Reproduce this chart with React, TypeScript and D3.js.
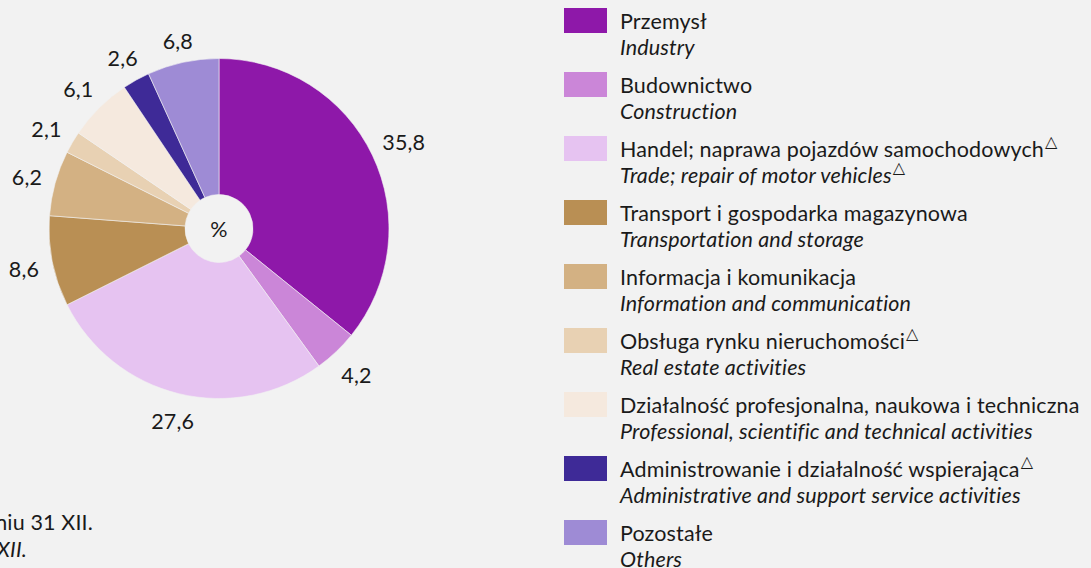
import React, { useEffect } from "react";
import * as d3 from "d3";

const categoriesPL = [
  "Przemysł",
  "Budownictwo",
  "Handel; naprawa pojazdów samochodowych",
  "Transport i gospodarka magazynowa",
  "Informacja i komunikacja",
  "Obsługa rynku nieruchomości",
  "Działalność profesjonalna, naukowa i techniczna",
  "Administrowanie i działalność wspierająca",
  "Pozostałe",
];
const categoriesEN = [
  "Industry",
  "Construction",
  "Trade; repair of motor vehicles",
  "Transportation and storage",
  "Information and communication",
  "Real estate activities",
  "Professional, scientific and technical activities",
  "Administrative and support service activities",
  "Others",
];
const markPL = [false, false, true, false, false, true, false, true, false];
const markEN = [false, false, true, false, false, false, false, false, false];
const values = [35.8, 4.2, 27.6, 8.6, 6.2, 2.1, 6.1, 2.6, 6.8];
const colors = [
  "#8e18a9",
  "#cb86d8",
  "#e6c3f1",
  "#b98f54",
  "#d3b183",
  "#e8d1b3",
  "#f5e9de",
  "#3e2a97",
  "#9e8bd5",
];
const centerLabel = "%";
const noteLines = ["Stan w dniu 31 XII.", "As of 31 XII."];

const W = 1091;
const H = 568;
const FONT = "Lato, 'Open Sans', sans-serif";
const FS = 21.5;
const LS = 0.15;

export default function App() {
  useEffect(() => {
    document.body.style.margin = "0";
  }, []);

  const cx = 219;
  const cy = 228.5;
  const R = 170;
  const r0 = 34;

  const pie = d3
    .pie<number>()
    .sort(null)
    .value((d) => d)
    .startAngle(0)
    .endAngle(2 * Math.PI);
  const arcs = pie(values);
  const arc = d3.arc<d3.PieArcDatum<number>>().innerRadius(r0).outerRadius(R);

  const fmt = (v: number) => v.toFixed(1).replace(".", ",");

  const labelPos = (a: d3.PieArcDatum<number>, text: string) => {
    const mid = (a.startAngle + a.endAngle) / 2;
    const s = Math.sin(mid);
    const c = Math.cos(mid);
    const halfW = text.length * 5.4;
    const halfH = 10;
    const rr = 181 + halfW * Math.abs(s) + halfH * Math.abs(c);
    return [cx + rr * s, cy - rr * c + 2];
  };

  const legendX = 564;
  const legendY0 = 8;
  const legendStep = 64;

  return (
    <svg
      width={W}
      height={H}
      style={{ position: "fixed", left: 0, top: 0, display: "block" }}
      fontFamily={FONT}
      letterSpacing={LS}
    >
      <rect x={0} y={0} width={W} height={H} fill="#f2f2f2" />
      <g transform={`translate(${cx},${cy})`}>
        {arcs.map((a, i) => (
          <path
            key={i}
            d={arc(a) || ""}
            fill={colors[i]}
            stroke="#f2f2f2"
            strokeWidth={0.6}
          />
        ))}
      </g>
      <text
        x={cx}
        y={cy}
        textAnchor="middle"
        dominantBaseline="central"
        fontSize={FS}
        fill="#1a1a1a"
      >
        {centerLabel}
      </text>
      {arcs.map((a, i) => {
        const t = fmt(values[i]);
        const [x, y] = labelPos(a, t);
        return (
          <text
            key={i}
            x={x}
            y={y}
            textAnchor="middle"
            dominantBaseline="central"
            fontSize={FS}
            fill="#1a1a1a"
          >
            {t}
          </text>
        );
      })}
      {categoriesPL.map((c, i) => {
        const y = legendY0 + i * legendStep;
        return (
          <g key={i}>
            <rect x={legendX} y={y} width={43} height={25} fill={colors[i]} />
            <text x={620} y={y + 21} fontSize={FS} fill="#1a1a1a">
              {c}
              {markPL[i] && (
                <tspan fontFamily="DejaVu Sans" fontSize={16} dx={1} dy={-10}>
                  △
                </tspan>
              )}
            </text>
            <text
              x={620}
              y={y + 47}
              fontSize={FS}
              fontStyle="italic"
              fill="#1a1a1a"
            >
              {categoriesEN[i]}
              {markEN[i] && (
                <tspan fontFamily="DejaVu Sans" fontSize={16} fontStyle="normal" dx={1} dy={-10}>
                  △
                </tspan>
              )}
            </text>
          </g>
        );
      })}
      <text x={93} y={530} textAnchor="end" fontSize={FS} fill="#1a1a1a">
        {noteLines[0]}
      </text>
      <text
        x={27}
        y={557}
        textAnchor="end"
        fontSize={FS}
        fontStyle="italic"
        fill="#1a1a1a"
      >
        {noteLines[1]}
      </text>
    </svg>
  );
}
